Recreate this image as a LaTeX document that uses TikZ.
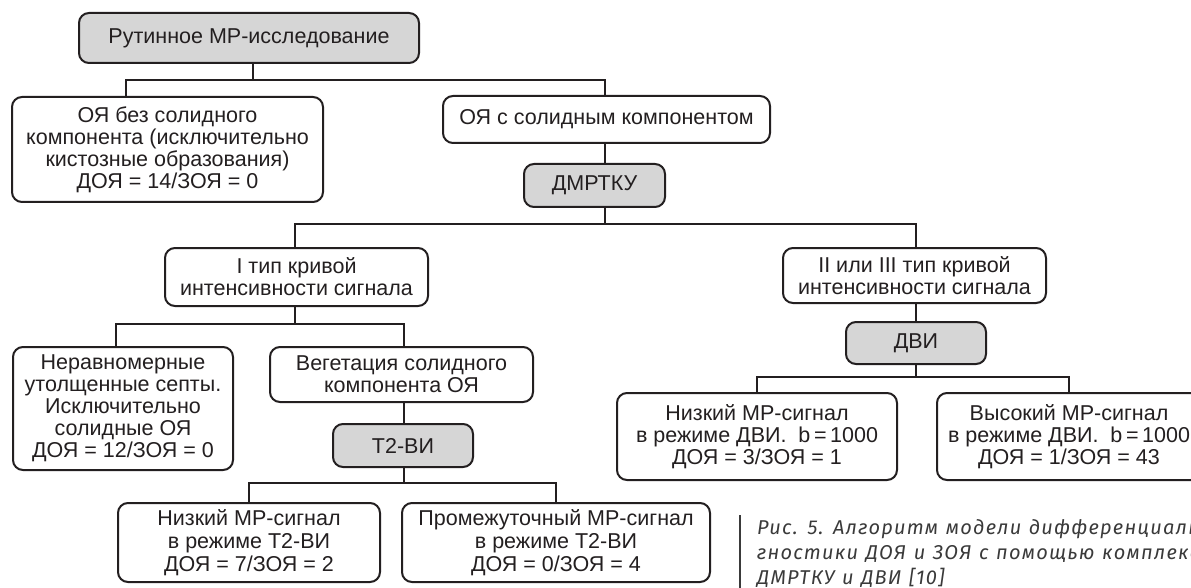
\documentclass[tikz,border=0pt]{standalone}
\usepackage{fontspec}
\setmainfont{Liberation Sans}
\newfontfamily\capfont{Fira Sans}[LetterSpace=6,WordSpace=1.2]
\definecolor{ink}{HTML}{231F20}
\definecolor{boxgray}{HTML}{D6D6D6}
\definecolor{capgray}{HTML}{3A3A3A}
\tikzset{
  box/.style={draw=ink, line width=2pt, rounded corners=10pt, fill=white,
    align=center, inner sep=0pt, text=ink,
    font=\fontsize{21.5}{22}\selectfont},
  gbox/.style={box, fill=boxgray},
  conn/.style={draw=ink, line width=1.6pt},
  captext/.style={anchor=base west, inner sep=0pt, text=capgray,
    font=\capfont\itshape\fontsize{20}{25}\selectfont}
}
\begin{document}
\begin{tikzpicture}[x=1pt,y=-1pt]
\useasboundingbox (0,0) rectangle (1191,588);
\clip (0,0) rectangle (1191,588);
\fill[white] (0,0) rectangle (1191,588);

% nodes
\node[gbox, minimum width=340pt, minimum height=50pt] (b1) at (249,38) {Рутинное МР-исследование};
\node[box, minimum width=311pt, minimum height=105pt] (b2) at (167.5,149.5) {ОЯ без солидного\\компонента (исключительно\\кистозные образования)\\ДОЯ = 14/ЗОЯ = 0};
\node[box, minimum width=327pt, minimum height=47pt] (b3) at (606.5,119.5) {ОЯ с солидным компонентом};
\node[gbox, minimum width=141pt, minimum height=43pt] (b4) at (594.5,185.5) {ДМРТКУ};
\node[box, minimum width=263pt, minimum height=58pt] (b5) at (296.5,277) {I тип кривой\\интенсивности сигнала};
\node[box, minimum width=263pt, minimum height=55pt] (b6) at (914.5,275.5) {II или III тип кривой\\интенсивности сигнала};
\node[box, minimum width=220pt, minimum height=123pt] (b7) at (123,408.5) {Неравномерные\\утолщенные септы.\\Исключительно\\солидные ОЯ\\ДОЯ = 12/ЗОЯ = 0};
\node[box, minimum width=263pt, minimum height=55pt] (b8) at (401.5,374.5) {Вегетация солидного\\компонента ОЯ};
\node[gbox, minimum width=140pt, minimum height=43pt] (b9) at (403,445.5) {Т2-ВИ};
\node[gbox, minimum width=140pt, minimum height=42pt] (b10) at (916,343) {ДВИ};
\node[box, minimum width=280pt, minimum height=87pt] (b11) at (757,436.5) {Низкий МР-сигнал\\в режиме ДВИ.\ \ b\,=\,1000\\ДОЯ = 3/ЗОЯ = 1};
\node[box, minimum width=264pt, minimum height=87pt] (b12) at (1069,436.5) {Высокий МР-сигнал\\в режиме ДВИ.\ \ b\,=\,1000\\ДОЯ = 1/ЗОЯ = 43};
\node[box, minimum width=262pt, minimum height=79pt] (b13) at (249,542.5) {Низкий МР-сигнал\\[1pt]в режиме Т2-ВИ\\[1pt]ДОЯ = 7/ЗОЯ = 2};
\node[box, minimum width=308pt, minimum height=79pt] (b14) at (556,542.5) {Промежуточный МР-сигнал\\[1pt]в режиме Т2-ВИ\\[1pt]ДОЯ = 0/ЗОЯ = 4};

% junctions
\coordinate (j1) at (253,80);
\coordinate (j2) at (605,224);
\coordinate (j3) at (295,324);
\coordinate (j4) at (404,483);
\coordinate (j5) at (916,377);

% connectors
\draw[conn] ([xshift=4pt]b1.south) -- (j1);
\draw[conn] ([xshift=-41.5pt]b2.north) |- (j1) -| ([xshift=-1.5pt]b3.north);
\draw[conn] ([xshift=-1.5pt]b3.south) -- ([xshift=10.5pt]b4.north);
\draw[conn] ([xshift=10.5pt]b4.south) -- (j2);
\draw[conn] ([xshift=-1.5pt]b5.north) |- (j2) -| ([xshift=1.5pt]b6.north);
\draw[conn] ([xshift=-1.5pt]b5.south) -- (j3);
\draw[conn] ([xshift=-7pt]b7.north) |- (j3) -| ([xshift=2.5pt]b8.north);
\draw[conn] ([xshift=2.5pt]b8.south) -- ([xshift=1pt]b9.north);
\draw[conn] ([xshift=1pt]b9.south) -- (j4);
\draw[conn] (b13.north) |- (j4) -| (b14.north);
\draw[conn] ([xshift=1.5pt]b6.south) -- (b10.north);
\draw[conn] (b10.south) -- (j5);
\draw[conn] (b11.north) |- (j5) -| (b12.north);

% caption
\coordinate (bartop) at (740,515);
\coordinate (barbot) at (740,600);
\draw[capgray, line width=1.3pt] (bartop) -- (barbot);
\node[captext] (cap1) at (757,534) {Рис. 5. Алгоритм модели дифференциальной диа-};
\node[captext] (cap2) at (757,559) {гностики ДОЯ и ЗОЯ с помощью комплекса};
\node[captext] (cap3) at (757,584) {ДМРТКУ и ДВИ [10]};
\end{tikzpicture}
\end{document}
